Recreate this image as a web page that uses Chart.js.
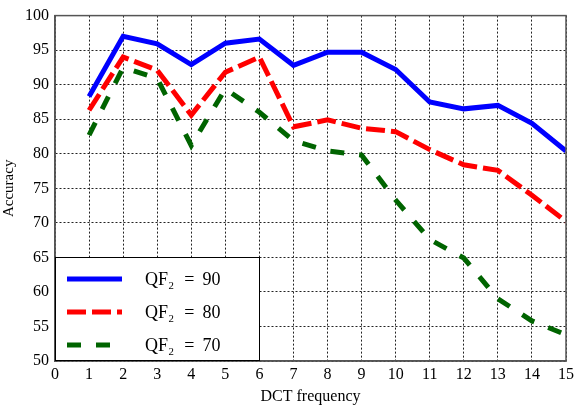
<!DOCTYPE html>
<html lang="en">
<head>
    <meta charset="UTF-8">
    <title>Accuracy vs DCT frequency</title>
    <script src="https://cdn.jsdelivr.net/npm/chart.js"></script>
    <style>
        body { margin: 0; background: #fff; }
        #wrap { width: 578px; height: 406px; }
    </style>
</head>
<body>
<div id="wrap"><canvas id="accChart"></canvas></div>
<script>
    // values
    const freqs = [1, 2, 3, 4, 5, 6, 7, 8, 9, 10, 11, 12, 13, 14, 15];
    const qf90 = [88.3, 97.0, 95.9, 92.9, 96.0, 96.6, 92.8, 94.7, 94.7, 92.2, 87.5, 86.5, 87.0, 84.4, 80.4];
    const qf80 = [86.3, 94.0, 92.1, 85.6, 91.8, 94.0, 83.9, 84.9, 83.7, 83.2, 80.6, 78.4, 77.6, 74.0, 70.2];
    const qf70 = [82.7, 92.5, 90.9, 81.2, 89.4, 86.0, 81.9, 80.4, 79.8, 73.3, 67.6, 64.9, 59.0, 55.8, 53.8];
    const labels = ['QF\u2082 = 90', 'QF\u2082 = 80', 'QF\u2082 = 70'];

    const serif = '"Liberation Serif", "DejaVu Serif", serif';

    function pts(vals) {
        return freqs.map((f, i) => ({ x: f, y: vals[i] }));
    }

    // legend box drawn inside the plot, bottom-left
    const insideLegend = {
        id: 'insideLegend',
        afterDraw(chart) {
            const ctx = chart.ctx;
            const a = chart.chartArea;
            const x0 = a.left, y1 = a.bottom, w = 205, h = 104;
            const y0 = y1 - h;
            ctx.save();
            ctx.fillStyle = '#fff';
            ctx.fillRect(x0, y0, w, h);
            ctx.strokeStyle = '#000';
            ctx.lineWidth = 1;
            ctx.strokeRect(x0 + 0.5, y0 + 0.5, w - 1, h - 1);
            chart.data.datasets.forEach((ds, i) => {
                const y = y0 + 22 + i * 33;
                ctx.beginPath();
                ctx.strokeStyle = ds.borderColor;
                ctx.lineWidth = ds.borderWidth;
                ctx.setLineDash(ds.borderDash || []);
                ctx.moveTo(x0 + 12, y);
                ctx.lineTo(x0 + 67, y);
                ctx.stroke();
                ctx.setLineDash([]);
                ctx.fillStyle = '#000';
                ctx.font = '18px ' + serif;
                ctx.textBaseline = 'middle';
                // split so the "=" gets some extra room, like the TeX original
                const parts = ds.label.split(' = ');
                let tx = x0 + 90;
                ctx.fillText(parts[0], tx, y + 1);
                tx += ctx.measureText(parts[0]).width + 10;
                ctx.fillText('=', tx, y + 1);
                tx += ctx.measureText('=').width + 8;
                ctx.fillText(parts[1], tx, y + 1);
            });
            ctx.restore();
        }
    };

    new Chart(document.getElementById('accChart'), {
        type: 'line',
        data: {
            datasets: [
                { label: labels[0], data: pts(qf90), borderColor: '#0000ff', borderWidth: 5, borderDash: [], pointRadius: 0, tension: 0 },
                { label: labels[1], data: pts(qf80), borderColor: '#ff0000', borderWidth: 5, borderDash: [19, 6], pointRadius: 0, tension: 0 },
                { label: labels[2], data: pts(qf70), borderColor: '#006400', borderWidth: 5, borderDash: [14, 15], pointRadius: 0, tension: 0 }
            ]
        },
        options: {
            responsive: true,
            maintainAspectRatio: false,
            animation: false,
            layout: { padding: { top: 15, right: 9, left: 0, bottom: 0 } },
            plugins: { legend: { display: false }, tooltip: { enabled: false } },
            scales: {
                x: {
                    type: 'linear',
                    min: 0, max: 15,
                    ticks: { stepSize: 1, color: '#000', font: { family: serif, size: 16 }, padding: 4, maxRotation: 0 },
                    grid: { color: '#222', lineWidth: 1, drawTicks: false },
                    border: { display: true, color: '#555', width: 1.5, dash: [2, 2] },
                    title: { display: true, text: 'DCT frequency', color: '#000', font: { family: serif, size: 16 }, padding: { top: 0, bottom: 0 } },
                    afterFit(s) { s.height = 45; }
                },
                y: {
                    min: 50, max: 100,
                    ticks: { stepSize: 5, color: '#000', font: { family: serif, size: 16 }, padding: 6 },
                    grid: { color: '#222', lineWidth: 1, drawTicks: false },
                    border: { display: true, color: '#555', width: 1.5, dash: [2, 2] },
                    title: { display: true, text: 'Accuracy', color: '#000', font: { family: serif, size: 15 }, padding: { top: 0, bottom: 2 } },
                    afterFit(s) { s.width = 55; }
                }
            }
        },
        plugins: [insideLegend, {
            id: 'frame',
            afterDatasetsDraw(chart) {
                const a = chart.chartArea, ctx = chart.ctx;
                ctx.save();
                ctx.strokeStyle = '#555';
                ctx.lineWidth = 1.5;
                ctx.strokeRect(a.left, a.top, a.right - a.left, a.bottom - a.top);
                ctx.restore();
            }
        }]
    });
</script>
</body>
</html>
